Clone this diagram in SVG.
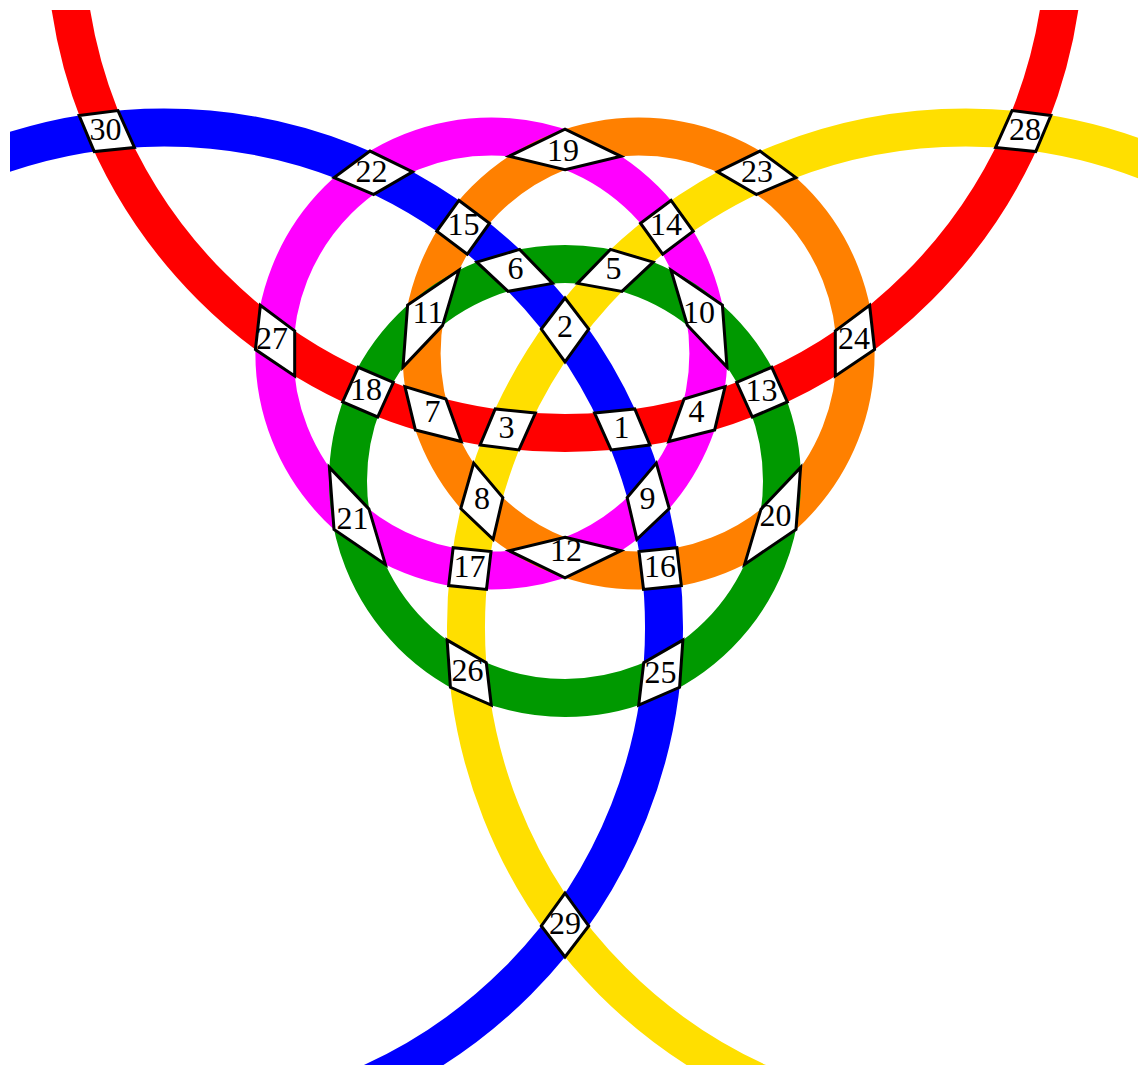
<svg xmlns="http://www.w3.org/2000/svg" width="1138" height="1065" viewBox="0 0 1138 1065">
<style>
.band{fill:none;stroke-width:38}
.q{fill:#fff;stroke:#000;stroke-width:3;stroke-linejoin:miter}
.t{font-family:"Liberation Serif","Times New Roman",serif;font-size:32px;text-anchor:middle;fill:#000}
</style>
<defs>
<clipPath id="area"><rect x="10" y="10" width="1128" height="1055"/></clipPath>
</defs>
<rect x="0" y="0" width="1138" height="1065" fill="#fff"/>
<g id="connectors" clip-path="url(#area)">
<circle id="arc-red" class="band" cx="565" cy="-67" r="500" stroke="#ff0000"/>
<circle id="arc-blue" class="band" cx="164.03" cy="627.5" r="500" stroke="#0000ff"/>
<circle id="arc-yellow" class="band" cx="965.97" cy="627.5" r="500" stroke="#ffdf00"/>
<circle id="arc-magenta" class="band" cx="491.39" cy="353.5" r="217" stroke="#ff00ff"/>
<circle id="arc-orange" class="band" cx="638.61" cy="353.5" r="217" stroke="#ff8000"/>
<circle id="arc-green" class="band" cx="565" cy="481" r="217" stroke="#009900"/>
</g>
<g id="nodes">
<g id="n1"><polygon class="q" points="565,361.82 588.69,329.13 565,297.98 541.31,329.13" transform="rotate(120 565 396)"/><text class="t" x="621.5" y="437.5">1</text></g>
<g id="n2"><polygon class="q" points="565,361.82 588.69,329.13 565,297.98 541.31,329.13"/><text class="t" x="565" y="337">2</text></g>
<g id="n3"><polygon class="q" points="565,361.82 588.69,329.13 565,297.98 541.31,329.13" transform="rotate(-120 565 396)"/><text class="t" x="506.5" y="437.5">3</text></g>
<g id="n4"><polygon class="q" points="684.09,399.02 725.06,386.59 714.65,429.95 668.74,441.53"/><text class="t" x="696.5" y="422">4</text></g>
<g id="n5"><polygon class="q" points="445.91,399.02 404.94,386.59 415.35,429.95 461.26,441.53" transform="rotate(120 565 396)"/><text class="t" x="613.5" y="279">5</text></g>
<g id="n6"><polygon class="q" points="684.09,399.02 725.06,386.59 714.65,429.95 668.74,441.53" transform="rotate(-120 565 396)"/><text class="t" x="515.5" y="279">6</text></g>
<g id="n7"><polygon class="q" points="445.91,399.02 404.94,386.59 415.35,429.95 461.26,441.53"/><text class="t" x="432.5" y="422">7</text></g>
<g id="n8"><polygon class="q" points="684.09,399.02 725.06,386.59 714.65,429.95 668.74,441.53" transform="rotate(120 565 396)"/><text class="t" x="482" y="508.5">8</text></g>
<g id="n9"><polygon class="q" points="445.91,399.02 404.94,386.59 415.35,429.95 461.26,441.53" transform="rotate(-120 565 396)"/><text class="t" x="647.5" y="508.5">9</text></g>
<g id="n10"><polygon class="q" points="565,537.31 621.01,550.72 565,577.73 508.99,550.72" transform="rotate(-120 565 396)"/><text class="t" x="699" y="322.5">10</text></g>
<g id="n11"><polygon class="q" points="565,537.31 621.01,550.72 565,577.73 508.99,550.72" transform="rotate(120 565 396)"/><text class="t" x="428" y="322.5">11</text></g>
<g id="n12"><polygon class="q" points="565,537.31 621.01,550.72 565,577.73 508.99,550.72"/><text class="t" x="566" y="561">12</text></g>
<g id="n13"><polygon class="q" points="736.65,382.33 771.79,367.28 787.37,401.95 752.36,417"/><text class="t" x="761.5" y="400.6">13</text></g>
<g id="n14"><polygon class="q" points="393.35,382.33 358.21,367.28 342.63,401.95 377.64,417" transform="rotate(120 565 396)"/><text class="t" x="666" y="235">14</text></g>
<g id="n15"><polygon class="q" points="736.65,382.33 771.79,367.28 787.37,401.95 752.36,417" transform="rotate(-120 565 396)"/><text class="t" x="463.5" y="235">15</text></g>
<g id="n16"><polygon class="q" points="393.35,382.33 358.21,367.28 342.63,401.95 377.64,417" transform="rotate(-120 565 396)"/><text class="t" x="660" y="576.5">16</text></g>
<g id="n17"><polygon class="q" points="736.65,382.33 771.79,367.28 787.37,401.95 752.36,417" transform="rotate(120 565 396)"/><text class="t" x="469.5" y="576.5">17</text></g>
<g id="n18"><polygon class="q" points="393.35,382.33 358.21,367.28 342.63,401.95 377.64,417"/><text class="t" x="366" y="400">18</text></g>
<g id="n19"><polygon class="q" points="565,169.69 621.01,156.28 565,129.27 508.99,156.28"/><text class="t" x="563" y="161">19</text></g>
<g id="n20"><polygon class="q" points="565,169.69 621.01,156.28 565,129.27 508.99,156.28" transform="rotate(120 565 396)"/><text class="t" x="775.5" y="526">20</text></g>
<g id="n21"><polygon class="q" points="565,169.69 621.01,156.28 565,129.27 508.99,156.28" transform="rotate(-120 565 396)"/><text class="t" x="352.5" y="529">21</text></g>
<g id="n22"><polygon class="q" points="835.31,330.86 869.62,305.25 874.57,349.57 835.32,376.05" transform="rotate(-120 565 396)"/><text class="t" x="371.5" y="182">22</text></g>
<g id="n23"><polygon class="q" points="294.69,330.86 260.38,305.25 255.43,349.57 294.68,376.05" transform="rotate(120 565 396)"/><text class="t" x="757" y="182">23</text></g>
<g id="n24"><polygon class="q" points="835.31,330.86 869.62,305.25 874.57,349.57 835.32,376.05"/><text class="t" x="854" y="348.5">24</text></g>
<g id="n25"><polygon class="q" points="294.69,330.86 260.38,305.25 255.43,349.57 294.68,376.05" transform="rotate(-120 565 396)"/><text class="t" x="660.5" y="683">25</text></g>
<g id="n26"><polygon class="q" points="835.31,330.86 869.62,305.25 874.57,349.57 835.32,376.05" transform="rotate(120 565 396)"/><text class="t" x="467.5" y="681">26</text></g>
<g id="n27"><polygon class="q" points="294.69,330.86 260.38,305.25 255.43,349.57 294.68,376.05"/><text class="t" x="272" y="349">27</text></g>
<g id="n28"><polygon class="q" points="565,893.18 588.69,925.87 565,957.02 541.31,925.87" transform="rotate(-120 565 396)"/><text class="t" x="1025" y="139.5">28</text></g>
<g id="n29"><polygon class="q" points="565,893.18 588.69,925.87 565,957.02 541.31,925.87"/><text class="t" x="565" y="934">29</text></g>
<g id="n30"><polygon class="q" points="565,893.18 588.69,925.87 565,957.02 541.31,925.87" transform="rotate(120 565 396)"/><text class="t" x="105.5" y="139.5">30</text></g>
</g>
</svg>
